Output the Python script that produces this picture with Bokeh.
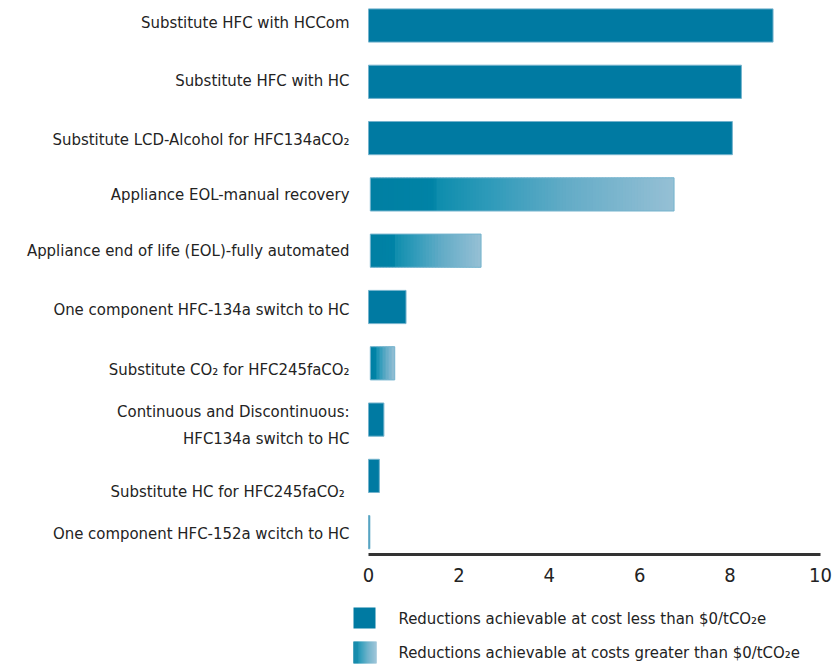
from bokeh.plotting import figure
from bokeh.models import Range1d, ColumnDataSource, FixedTicker
from bokeh.layouts import column
from bokeh.embed import file_html
from bokeh.resources import INLINE
from bokeh.core.properties import value

# ---------------- data ----------------
categories = [
    "Substitute HFC with HCCom",
    "Substitute HFC with HC",
    "Substitute LCD-Alcohol for HFC134aCO\u2082",
    "Appliance EOL-manual recovery",
    "Appliance end of life (EOL)-fully automated",
    "One component HFC-134a switch to HC",
    "Substitute CO\u2082 for HFC245faCO\u2082",
    "Continuous and Discontinuous:\nHFC134a switch to HC",
    "Substitute HC for  HFC245faCO\u2082",
    "One component HFC-152a wcitch to HC",
]
values = [8.95, 8.25, 8.05, 6.76, 2.49, 0.83, 0.58, 0.34, 0.24, 0.03]
cost_type = ["low", "low", "low", "high", "high", "low", "high", "low", "low", "low"]
x_ticks = [0, 2, 4, 6, 8, 10]
legend_labels = [
    "Reductions achievable at cost less than $0/tCO\u2082e",
    "Reductions achievable at costs greater than $0/tCO\u2082e",
]

# ---------------- style ----------------
FONT = "'DejaVu Sans Condensed', 'Liberation Sans Narrow', 'DejaVu Sans', sans-serif"
TEXT_COLOR = "#232323"
SOLID = "#007aa2"
EDGE = "#74b3cd"
GRAD_STOPS = [(0.0, (0, 127, 163)), (0.21, (0, 131, 166)), (0.22, (14, 141, 173)),
              (0.40, (48, 155, 186)), (0.65, (100, 172, 199)), (1.0, (150, 192, 213))]
GRAD_START = 0.04
BAR_H = 0.59
label_offsets = [-3, -1, 1, 0, 0, 2.5, 6.5, 5.5, 15.5, 1]


def grad_color(t):
    for (t0, c0), (t1, c1) in zip(GRAD_STOPS[:-1], GRAD_STOPS[1:]):
        if t <= t1:
            f = 0 if t1 == t0 else (t - t0) / (t1 - t0)
            c = [round(a + (b - a) * f) for a, b in zip(c0, c1)]
            return "#%02x%02x%02x" % tuple(c)
    return "#%02x%02x%02x" % GRAD_STOPS[-1][1]


ys = list(range(len(categories)))

p = figure(width=835, height=600,
           x_range=Range1d(-8.142, 10.332), y_range=Range1d(9.396, -0.444),
           output_backend="svg", toolbar_location=None, y_axis_location=None,
           min_border_left=0, min_border_right=0, min_border_top=0, min_border_bottom=46)
p.grid.visible = False
p.outline_line_color = None
p.background_fill_color = "white"

# solid bars
sy = [y for y, c in zip(ys, cost_type) if c == "low"]
sv = [v for v, c in zip(values, cost_type) if c == "low"]
p.hbar(y=sy, left=0, right=sv, height=BAR_H, fill_color=SOLID, line_color=EDGE, line_width=1)

# gradient bars as thin slices
gl, gr, gy, gc = [], [], [], []
for y, v, c in zip(ys, values, cost_type):
    if c != "high":
        continue
    span = v - GRAD_START
    n = max(6, int(span * 45.2 / 3))
    for k in range(n):
        gl.append(GRAD_START + span * k / n)
        gr.append(min(v, GRAD_START + span * (k + 1) / n + 0.03))
        gy.append(y)
        gc.append(grad_color((k + 0.5) / n))
p.hbar(y=gy, left=gl, right=gr, height=BAR_H, fill_color=gc, line_color=None)
gy2 = [y for y, c in zip(ys, cost_type) if c == "high"]
gv2 = [v for v, c in zip(values, cost_type) if c == "high"]
p.hbar(y=gy2, left=GRAD_START, right=gv2, height=BAR_H, fill_color=None, line_color=EDGE, line_width=1)

# category labels
src = ColumnDataSource(dict(y=ys, text=categories, off=label_offsets))
p.text(x=-0.42, y="y", text="text", y_offset="off", source=src,
       text_align="right", text_baseline="middle", text_font=value(FONT),
       text_font_size="16.6px", text_color=TEXT_COLOR, text_line_height=1.4)

ax = p.xaxis[0]
ax.bounds = (0, 10)
ax.ticker = FixedTicker(ticks=x_ticks)
ax.axis_line_width = 3
ax.axis_line_color = "#333333"
ax.major_tick_line_color = None
ax.minor_tick_line_color = None
ax.major_label_text_font = FONT
ax.major_label_text_font_size = "20px"
ax.major_label_text_color = TEXT_COLOR
ax.major_label_standoff = 7

# ---------------- legend figure ----------------
lg = figure(width=835, height=68, x_range=Range1d(0, 835), y_range=Range1d(68, 0),
            output_backend="svg", toolbar_location=None,
            x_axis_location=None, y_axis_location=None,
            min_border=0)
lg.grid.visible = False
lg.outline_line_color = None

rows = [17.5, 52]
lg.rect(x=364, y=rows[0], width=22, height=21, fill_color=SOLID, line_color=None)
M = 23
lx = [353 + k for k in range(M)]
lc = [grad_color((k + 0.5) / M) for k in range(M)]
lg.rect(x=[x + 0.5 for x in lx], y=rows[1], width=1.4, height=22, fill_color=lc, line_color=None)
lg.text(x=398, y=rows, text=legend_labels, text_align="left", text_baseline="middle",
        text_font=value(FONT), text_font_size="16.6px", text_color=TEXT_COLOR)

layout = column(p, lg, spacing=0)
open("out.html", "w").write(file_html(layout, INLINE))
